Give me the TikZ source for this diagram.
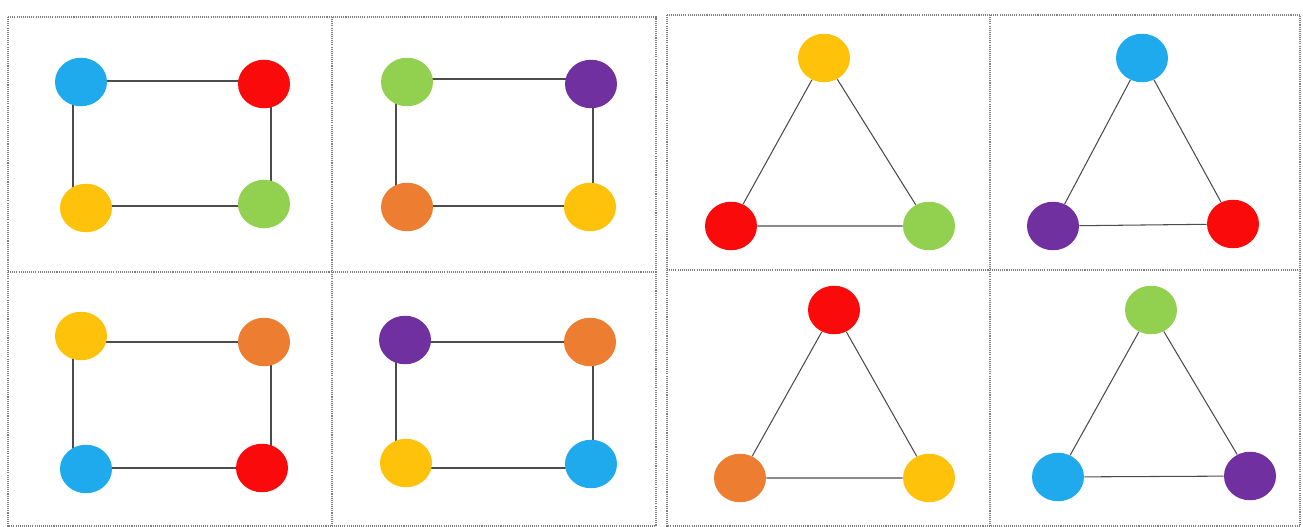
\documentclass[tikz,border=0pt]{standalone}
\usepackage{tikz}
\usetikzlibrary{shapes.geometric}
\definecolor{cblue}{RGB}{32,170,238}
\definecolor{cred}{RGB}{250,10,10}
\definecolor{cyellow}{RGB}{255,194,10}
\definecolor{cgreen}{RGB}{146,208,80}
\definecolor{cpurple}{RGB}{112,48,160}
\definecolor{corange}{RGB}{237,125,49}
\tikzset{
    dot/.style={
        ellipse,
        minimum width=1.04cm,
        minimum height=0.97cm,
        inner sep=0pt,
        draw=none
    },
    % thin grey connector between two dots
    edge/.style={
        line width=0.6pt,
        black!70
    },
    frame/.style={
        line width=0.7pt,
        gray,
        dash pattern=on 0.6pt off 0.6pt
    }
}
\begin{document}
\begin{tikzpicture}[x=0.02cm,y=-0.02cm]
    \useasboundingbox (0,0) rectangle (1303,527);

    % frames of the two panels
    \draw[frame] (8,17) rectangle (656,526);
    \draw[frame] (332,17) -- (332,526);
    \draw[frame] (8,272) -- (656,272);
    \draw[frame] (667,15) rectangle (1300,526);
    \draw[frame] (990,15) -- (990,526);
    \draw[frame] (667,270) -- (1300,270);

    % corners of the squares
    \coordinate (a-nw) at (73,81);  \coordinate (a-se) at (271,206);
    \coordinate (b-nw) at (396,79); \coordinate (b-se) at (593,206);
    \coordinate (c-nw) at (73,342); \coordinate (c-se) at (271,468);
    \coordinate (d-nw) at (396,342); \coordinate (d-se) at (593,468);
    \foreach \s in {a,b,c,d}
        \draw[edge] (\s-nw) rectangle (\s-se);

    % squares
    \node[dot, fill=cblue]   (a1) at (81,82) {};
    \node[dot, fill=cred]    (a2) at (264,84) {};
    \node[dot, fill=cgreen]  (a3) at (264,204) {};
    \node[dot, fill=cyellow] (a4) at (86,208) {};

    \node[dot, fill=cgreen]  (b1) at (407,82) {};
    \node[dot, fill=cpurple] (b2) at (591,84) {};
    \node[dot, fill=cyellow] (b3) at (590,207) {};
    \node[dot, fill=corange] (b4) at (407,207) {};

    \node[dot, fill=cyellow] (c1) at (81,336) {};
    \node[dot, fill=corange] (c2) at (264,342) {};
    \node[dot, fill=cred]    (c3) at (262,468) {};
    \node[dot, fill=cblue]   (c4) at (86,469) {};

    \node[dot, fill=cpurple] (d1) at (405,340) {};
    \node[dot, fill=corange] (d2) at (590,342) {};
    \node[dot, fill=cblue]   (d3) at (591,464) {};
    \node[dot, fill=cyellow] (d4) at (406,463) {};

    % triangles
    \node[dot, fill=cyellow] (e1) at (824,58) {};
    \node[dot, fill=cgreen]  (e2) at (929,226) {};
    \node[dot, fill=cred]    (e3) at (731,226) {};

    \node[dot, fill=cblue]   (f1) at (1142,58) {};
    \node[dot, fill=cred]    (f2) at (1233,224) {};
    \node[dot, fill=cpurple] (f3) at (1053,226) {};

    \node[dot, fill=cred]    (g1) at (834,310) {};
    \node[dot, fill=cyellow] (g2) at (929,478) {};
    \node[dot, fill=corange] (g3) at (740,478) {};

    \node[dot, fill=cgreen]  (h1) at (1151,310) {};
    \node[dot, fill=cpurple] (h2) at (1250,476) {};
    \node[dot, fill=cblue]   (h3) at (1058,477) {};

    \foreach \s in {e,f,g,h}
        \draw[edge] (\s1) -- (\s2) -- (\s3) -- (\s1);
\end{tikzpicture}
\end{document}
